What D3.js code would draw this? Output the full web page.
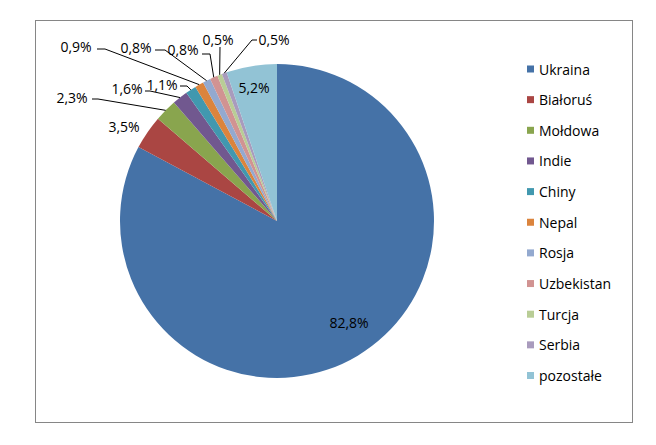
<!DOCTYPE html>
<html>
<head>
<meta charset="utf-8">
<script src="https://cdn.jsdelivr.net/npm/d3@7"></script>
<style>
html,body{margin:0;padding:0;background:#fff;}
svg{display:block;}
text{font-family:"Open Sans",Calibri,sans-serif;fill:#000;}
</style>
</head>
<body>
<svg id="chart" width="656" height="445"></svg>
<script>
// ---- data ----
const categories = ["Ukraina","Białoruś","Mołdowa","Indie","Chiny","Nepal","Rosja","Uzbekistan","Turcja","Serbia","pozostałe"];
const values = [82.8, 3.5, 2.3, 1.6, 1.1, 0.9, 0.8, 0.8, 0.5, 0.5, 5.2];
const colors = ["#4572A7","#AA4643","#89A54E","#71588F","#4198AF","#DB843D","#93A9CF","#D19392","#B9CD96","#A99BBD","#92C3D5"];

// ---- layout (label placement, not data) ----
// x,y = label text centre; leader = points before reaching the slice edge
const labelLayout = [
  {x:349, y:322, leader:null},
  {x:124, y:126, leader:null},
  {x:72,  y:97,  leader:[[92,99],[98,99]]},
  {x:127, y:88,  leader:[[145,91],[150,91]]},
  {x:162, y:84,  leader:[[180,86],[187,86]]},
  {x:76,  y:46,  leader:[[97,49],[105,49]]},
  {x:136, y:47,  leader:[[155,50],[165,50]]},
  {x:183, y:49,  leader:[[202,54],[210,54]]},
  {x:218, y:39,  leader:[[220,47]]},
  {x:274, y:39,  leader:[[257,40],[252,40]]},
  {x:254, y:87,  leader:null}
];

const W = 656, H = 445;
const cx = 277, cy = 221, R = 157;

const svg = d3.select("#chart");
svg.append("rect").attr("x",0).attr("y",0).attr("width",W).attr("height",H).attr("fill","#fff");
svg.append("rect").attr("x",35.5).attr("y",20.5).attr("width",597).attr("height",402)
  .attr("fill","none").attr("stroke","#868686").attr("stroke-width",1);

const data = categories.map((c,i)=>({name:c, value:values[i], color:colors[i]}));
const pie = d3.pie().sort(null).value(d=>d.value);
const arcs = pie(data);
const arc = d3.arc().innerRadius(0).outerRadius(R);

const g = svg.append("g").attr("transform",`translate(${cx},${cy})`);
g.selectAll("path.slice").data(arcs).enter().append("path")
  .attr("class","slice")
  .attr("d",arc)
  .attr("fill",d=>d.data.color)
  .attr("stroke","none");

const fmt = v => d3.format(".1f")(v).replace(".",",") + "%";

// leader lines
arcs.forEach((a,i)=>{
  const L = labelLayout[i];
  if(!L.leader) return;
  const mid = (a.startAngle + a.endAngle)/2;
  const ex = cx + R*Math.sin(mid), ey = cy - R*Math.cos(mid);
  const pts = L.leader.concat([[ex,ey]]);
  svg.append("path")
    .attr("d", d3.line()(pts))
    .attr("fill","none").attr("stroke","#000").attr("stroke-width",1);
});

// labels
svg.selectAll("text.lbl").data(arcs).enter().append("text")
  .attr("class","lbl")
  .attr("x",(d,i)=>labelLayout[i].x)
  .attr("y",(d,i)=>labelLayout[i].y)
  .attr("text-anchor","middle")
  .attr("dominant-baseline","central")
  .style("font-size","14px")
  .text(d=>fmt(d.data.value));

// legend
const leg = svg.append("g");
const ly0 = 69, lstep = 30.65;
data.forEach((d,i)=>{
  const y = ly0 + i*lstep;
  leg.append("rect").attr("x",527).attr("y",y-3.5).attr("width",7).attr("height",7).attr("fill",d.color);
  leg.append("text").attr("x",539).attr("y",y).attr("dominant-baseline","central")
    .style("font-size","14px").text(d.name);
});
</script>
</body>
</html>
